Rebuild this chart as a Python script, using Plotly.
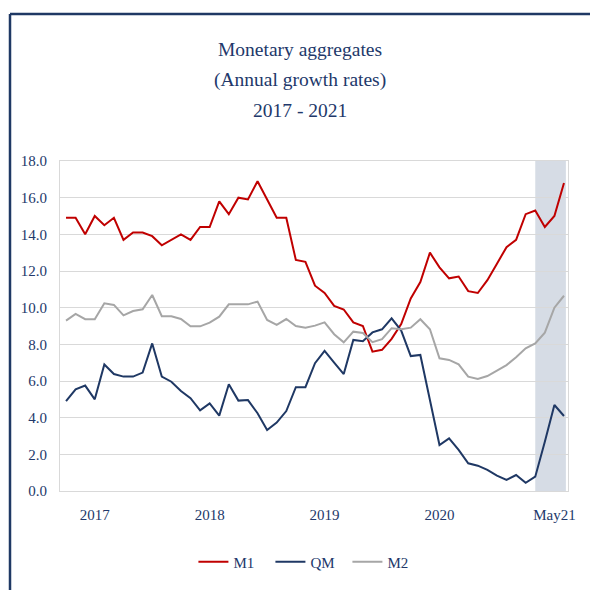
import plotly.graph_objects as go

months = [f"{m}-{y}" for y in ["17", "18", "19", "20", "21"]
          for m in ["Jan", "Feb", "Mar", "Apr", "May", "Jun", "Jul", "Aug", "Sep", "Oct", "Nov", "Dec"]][:53]

m1 = [14.9, 14.9, 14.0, 15.0, 14.5, 14.9, 13.7, 14.1, 14.1, 13.9, 13.4, 13.7,
      14.0, 13.7, 14.4, 14.4, 15.8, 15.1, 16.0, 15.9, 16.9, 15.9, 14.9, 14.9,
      12.6, 12.5, 11.2, 10.8, 10.1, 9.9, 9.2, 9.0, 7.6, 7.7, 8.3, 9.1,
      10.5, 11.4, 13.0, 12.2, 11.6, 11.7, 10.9, 10.8, 11.5, 12.4, 13.3, 13.7,
      15.1, 15.3, 14.4, 15.0, 16.8]

qm = [4.9, 5.55, 5.75, 5.0, 6.9, 6.38, 6.24, 6.24, 6.46, 8.05, 6.24, 5.96,
      5.45, 5.06, 4.4, 4.78, 4.11, 5.82, 4.93, 4.96, 4.24, 3.33, 3.73, 4.36,
      5.66, 5.66, 6.97, 7.64, 7.0, 6.38, 8.24, 8.17, 8.65, 8.82, 9.42, 8.75,
      7.36, 7.42, 4.96, 2.51, 2.87, 2.24, 1.51, 1.38, 1.15, 0.84, 0.6, 0.87,
      0.45, 0.78, 2.69, 4.69, 4.09]

m2 = [9.29, 9.66, 9.37, 9.37, 10.24, 10.15, 9.58, 9.82, 9.91, 10.69, 9.53, 9.53,
      9.38, 8.98, 8.98, 9.18, 9.51, 10.18, 10.18, 10.18, 10.33, 9.33, 9.06, 9.38,
      9.0, 8.91, 9.02, 9.2, 8.55, 8.11, 8.69, 8.62, 8.12, 8.28, 8.88, 8.82,
      8.91, 9.37, 8.82, 7.24, 7.15, 6.91, 6.24, 6.11, 6.27, 6.55, 6.87, 7.29,
      7.78, 8.05, 8.64, 10.0, 10.65]

tick_months = ["Apr-17", "Apr-18", "Apr-19", "Apr-20", "Apr-21"]
tick_labels = ["2017", "2018", "2019", "2020", "May21"]
y_ticks = [0, 2, 4, 6, 8, 10, 12, 14, 16, 18]

navy = "#1F3864"
text_col = "#22386A"
font_family = "Liberation Serif, Times New Roman, serif"

fig = go.Figure()
fig.add_trace(go.Scatter(x=months, y=m1, name="M1", mode="lines",
                         line=dict(color="#C00000", width=2)))
fig.add_trace(go.Scatter(x=months, y=qm, name="QM", mode="lines",
                         line=dict(color=navy, width=2)))
fig.add_trace(go.Scatter(x=months, y=m2, name="M2", mode="lines",
                         line=dict(color="#A6A6A6", width=2)))

# shaded period (Feb-21 to May-21)
fig.add_shape(type="rect", xref="x", yref="paper", x0=49, x1=52.2, y0=0, y1=1,
              fillcolor="#D6DCE5", line=dict(width=0), layer="below")

# outer frame lines (top and left)
fx = (10 - 60) / 508
fy = 1 + (161 - 14) / 330
fig.add_shape(type="line", xref="paper", yref="paper",
              x0=fx, x1=1.08, y0=fy, y1=fy,
              line=dict(color=navy, width=2.5))
fig.add_shape(type="line", xref="paper", yref="paper",
              x0=fx, x1=fx, y0=fy, y1=-0.32,
              line=dict(color=navy, width=2.5))

titles = ["Monetary aggregates", "(Annual growth rates)", "2017 - 2021"]
title_y = [50, 80, 110]
for t, py in zip(titles, title_y):
    fig.add_annotation(text=t, xref="paper", yref="paper",
                       x=(300 - 60) / 508, y=1 + (161 - py) / 330,
                       xanchor="center", yanchor="middle", showarrow=False,
                       font=dict(family=font_family, size=19.5, color=text_col))

fig.update_layout(
    width=590, height=582,
    margin=dict(l=52, r=30, t=153, b=99),
    paper_bgcolor="white", plot_bgcolor="white",
    font=dict(family=font_family, size=15, color=text_col),
    showlegend=True,
    legend=dict(orientation="h", x=0.49, xanchor="center", y=-0.215, yanchor="middle",
                font=dict(family=font_family, size=15, color=text_col),
                itemwidth=30, traceorder="normal",
                entrywidth=32, entrywidthmode="pixels"),
)
fig.update_xaxes(type="category", range=[-0.63, 52.42],
                 tickmode="array", tickvals=tick_months, ticktext=tick_labels,
                 showgrid=False, showline=True, linecolor="#D9D9D9", linewidth=1,
                 mirror=True, ticks="", ticklabelstandoff=10,
                 tickfont=dict(family=font_family, size=15, color=text_col))
fig.update_yaxes(range=[0, 18], tickmode="array", tickvals=y_ticks,
                 tickformat=".1f", showgrid=True, gridcolor="#D9D9D9", gridwidth=1,
                 showline=True, linecolor="#D9D9D9", linewidth=1, mirror=True,
                 zeroline=False, ticks="", ticklabelstandoff=9,
                 tickfont=dict(family=font_family, size=15, color=text_col))

fig.write_html("out.html")
